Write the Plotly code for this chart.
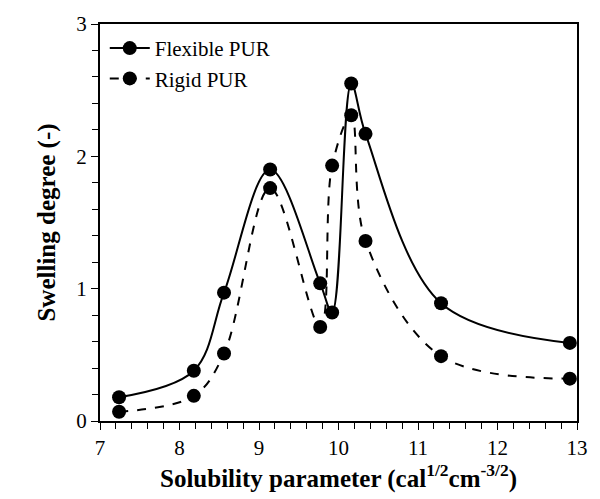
import plotly.graph_objects as go

# Solubility parameter of the test solvents (cal^1/2 cm^-3/2)
solubility = [7.24, 8.18, 8.56, 9.14, 9.77, 9.92, 10.16, 10.34, 11.29, 12.91]
# Swelling degree of each foam type
flexible_pur = [0.18, 0.38, 0.97, 1.90, 1.04, 0.82, 2.55, 2.17, 0.89, 0.59]
rigid_pur = [0.07, 0.19, 0.51, 1.76, 0.71, 1.93, 2.31, 1.36, 0.49, 0.32]

series_names = ["Flexible PUR", "Rigid PUR"]

fig = go.Figure()
fig.add_trace(go.Scatter(
    x=solubility, y=flexible_pur, name=series_names[0], mode="lines+markers",
    line=dict(color="black", width=2, shape="spline"),
    marker=dict(color="black", size=14),
))
fig.add_trace(go.Scatter(
    x=solubility, y=rigid_pur, name=series_names[1], mode="lines+markers",
    line=dict(color="black", width=2, dash="dash", shape="spline"),
    marker=dict(color="black", size=14),
))

fig.update_layout(
    width=600, height=499,
    margin=dict(l=100, r=13, t=21, b=78),
    paper_bgcolor="white", plot_bgcolor="white",
    font=dict(family="Liberation Serif", size=21, color="black"),
    legend=dict(x=0.01, y=0.99, xanchor="left", yanchor="top",
                bgcolor="rgba(0,0,0,0)", itemwidth=40),
    xaxis=dict(range=[7, 13], dtick=1, showgrid=False, zeroline=False,
               showline=True, linecolor="black", linewidth=2, mirror=True,
               ticks="outside", ticklen=7, tickcolor="black",
               minor=dict(dtick=0.2, ticks="outside", ticklen=6, tickcolor="black"),
               title=dict(text="<b>Solubility parameter (cal<sup>1/2</sup>cm<sup>-3/2</sup>)</b>",
                          standoff=6)),
    yaxis=dict(range=[0, 3], dtick=1, showgrid=False, zeroline=False,
               showline=True, linecolor="black", linewidth=2, mirror=True,
               ticks="outside", ticklen=7, tickcolor="black",
               minor=dict(dtick=0.2, ticks="outside", ticklen=6, tickcolor="black"),
               title=dict(text="<b>Swelling degree (-)</b>", standoff=14)),
)

fig.write_html("out.html")
